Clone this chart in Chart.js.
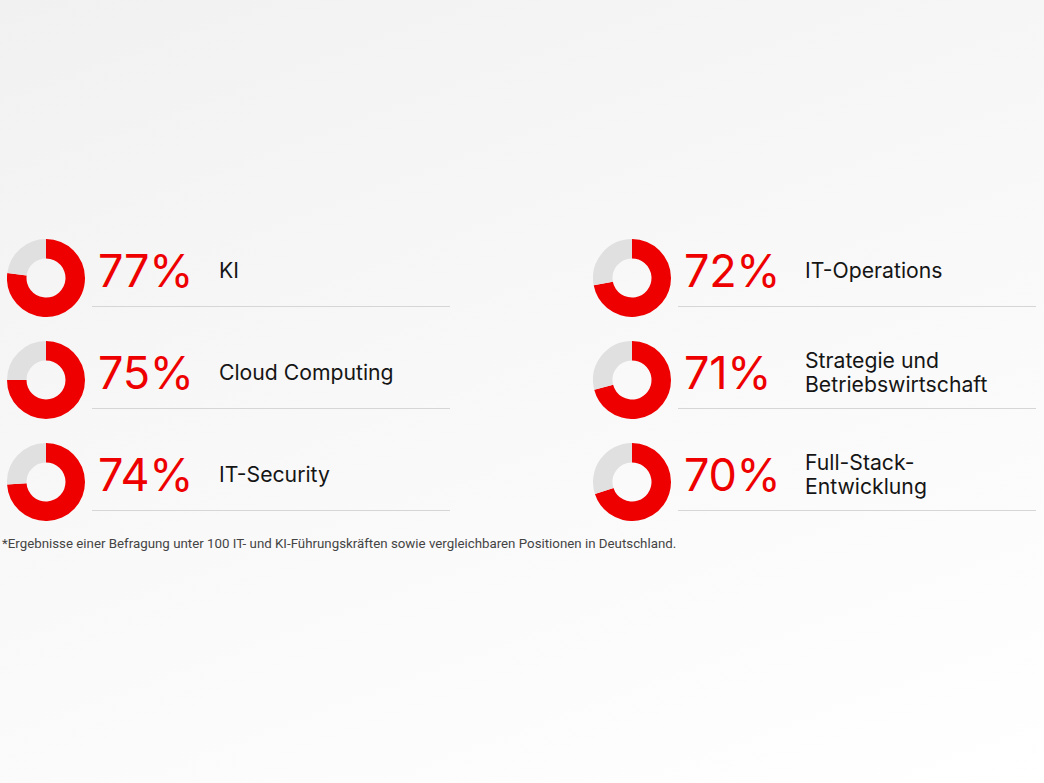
<!DOCTYPE html>
<html lang="de">
<head>
<meta charset="utf-8">
<script src="https://cdn.jsdelivr.net/npm/chart.js@4.4.1/dist/chart.umd.min.js"></script>
<style>
  html, body { margin: 0; padding: 0; }
  body {
    width: 1044px; height: 783px; overflow: hidden; position: relative;
    background: linear-gradient(160deg, #f1f1f1 0%, #f8f8f8 45%, #ffffff 100%);
    font-family: "Inter", "Open Sans", sans-serif;
  }
  .item { position: absolute; width: 460px; height: 100px; }
  .item canvas { position: absolute; left: 0; top: 0; }
  .pct {
    position: absolute; left: 91px; top: 4px;
    font-size: 45px; color: #ee0000; font-weight: 400; letter-spacing: -0.3px;
  }
  .label {
    position: absolute; left: 212px; height: 62px;
    display: flex; align-items: center; top: 0;
    font-size: 21.2px; line-height: 24px; color: #151515;
  }
  .rule {
    position: absolute; left: 85px; width: 358px; top: 67px;
    border-top: 1.5px solid #d6d6d6;
  }
  .note {
    position: absolute; left: 2px; top: 536px;
    font-family: "Roboto", sans-serif; font-size: 13.3px; color: #444;
  }
</style>
</head>
<body>
<div id="items"></div>
<div class="note">*Ergebnisse einer Befragung unter 100 IT- und KI-Führungskräften sowie vergleichbaren Positionen in Deutschland.</div>
<script>
const topics = ['KI', 'Cloud Computing', 'IT-Security', 'IT-Operations', 'Strategie und<br>Betriebswirtschaft', 'Full-Stack-<br>Entwicklung'];
const shares = [77, 75, 74, 72, 71, 70];
const red = '#ee0000';
const grey = '#e0e0e0';

// column/row origin of each tile (donut top-left)
const colX = [7, 593];
const rowY = [239, 341, 443];

const wrap = document.getElementById('items');
topics.forEach((t, i) => {
    const col = i < 3 ? 0 : 1;
    const row = i % 3;
    const el = document.createElement('div');
    el.className = 'item';
    el.style.left = colX[col] + 'px';
    el.style.top = rowY[row] + 'px';
    el.innerHTML = `
        <canvas width="78" height="78" id="c${i}"></canvas>
        <div class="pct">${shares[i]}%</div>
        <div class="label">${t}</div>
        <div class="rule"></div>
    `;
    wrap.appendChild(el);

    new Chart(document.getElementById('c' + i), {
        type: 'doughnut',
        data: {
            labels: ['Ja', 'Rest'],
            datasets: [{
                data: [shares[i], 100 - shares[i]],
                backgroundColor: [red, grey],
                borderWidth: 0
            }]
        },
        options: {
            responsive: false,
            animation: false,
            cutout: '50%',
            plugins: {legend: {display: false}, tooltip: {enabled: false}}
        }
    });
});
</script>
</body>
</html>
